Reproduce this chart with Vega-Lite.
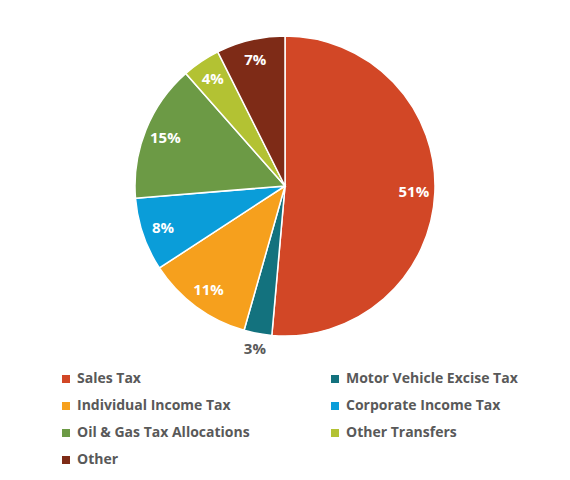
{
  "$schema": "https://vega.github.io/schema/vega-lite/v6.json",
  "width": 570,
  "height": 372,
  "padding": 0,
  "autosize": {"type": "pad"},
  "background": "white",
  "config": {"view": {"stroke": null}},
  "data": {
    "values": [
      {"category": "Sales Tax", "value": 51.4, "label": "51%"},
      {"category": "Motor Vehicle Excise Tax", "value": 3.0, "label": "3%"},
      {"category": "Individual Income Tax", "value": 11.4, "label": "11%"},
      {"category": "Corporate Income Tax", "value": 7.9, "label": "8%"},
      {"category": "Oil & Gas Tax Allocations", "value": 14.8, "label": "15%"},
      {"category": "Other Transfers", "value": 4.1, "label": "4%"},
      {"category": "Other", "value": 7.4, "label": "7%"}
    ]
  },
  "transform": [{"window": [{"op": "row_number", "as": "rank"}]}],
  "encoding": {
    "theta": {"field": "value", "type": "quantitative", "stack": true},
    "order": {"field": "rank", "type": "quantitative", "sort": "ascending"},
    "color": {
      "field": "category",
      "type": "nominal",
      "scale": {
        "domain": ["Sales Tax", "Motor Vehicle Excise Tax", "Individual Income Tax", "Corporate Income Tax", "Oil & Gas Tax Allocations", "Other Transfers", "Other"],
        "range": ["#D24726", "#13727E", "#F6A01D", "#0A9DD9", "#6C9A45", "#B3C233", "#7E2B17"]
      },
      "legend": {
        "title": null,
        "orient": "none",
        "legendX": 59,
        "legendY": 372,
        "direction": "horizontal",
        "columns": 2,
        "columnPadding": 78,
        "rowPadding": 13,
        "symbolType": "square",
        "symbolSize": 64,
        "symbolStrokeWidth": 0,
        "symbolOffset": 0,
        "labelOffset": 4,
        "labelFont": "Open Sans",
        "labelFontWeight": "bold",
        "labelFontSize": 14,
        "labelColor": "#595959",
        "labelLimit": 300
      }
    }
  },
  "layer": [
    {
      "mark": {"type": "arc", "outerRadius": 150, "stroke": "white", "strokeWidth": 1.5}
    },
    {
      "mark": {"type": "text", "radius": 129, "font": "Open Sans", "fontWeight": "bold", "fontSize": 15, "align": "center", "baseline": "middle"},
      "encoding": {
        "text": {"field": "label"},
        "fill": {"value": "white"},
        "opacity": {"condition": {"test": "datum.category === 'Motor Vehicle Excise Tax'", "value": 0}, "value": 1}
      }
    },
    {
      "mark": {"type": "text", "radius": 166, "font": "Open Sans", "fontWeight": "bold", "fontSize": 15, "align": "center", "baseline": "middle"},
      "encoding": {
        "text": {"field": "label"},
        "fill": {"value": "#595959"},
        "opacity": {"condition": {"test": "datum.category === 'Motor Vehicle Excise Tax'", "value": 1}, "value": 0}
      }
    }
  ]
}
